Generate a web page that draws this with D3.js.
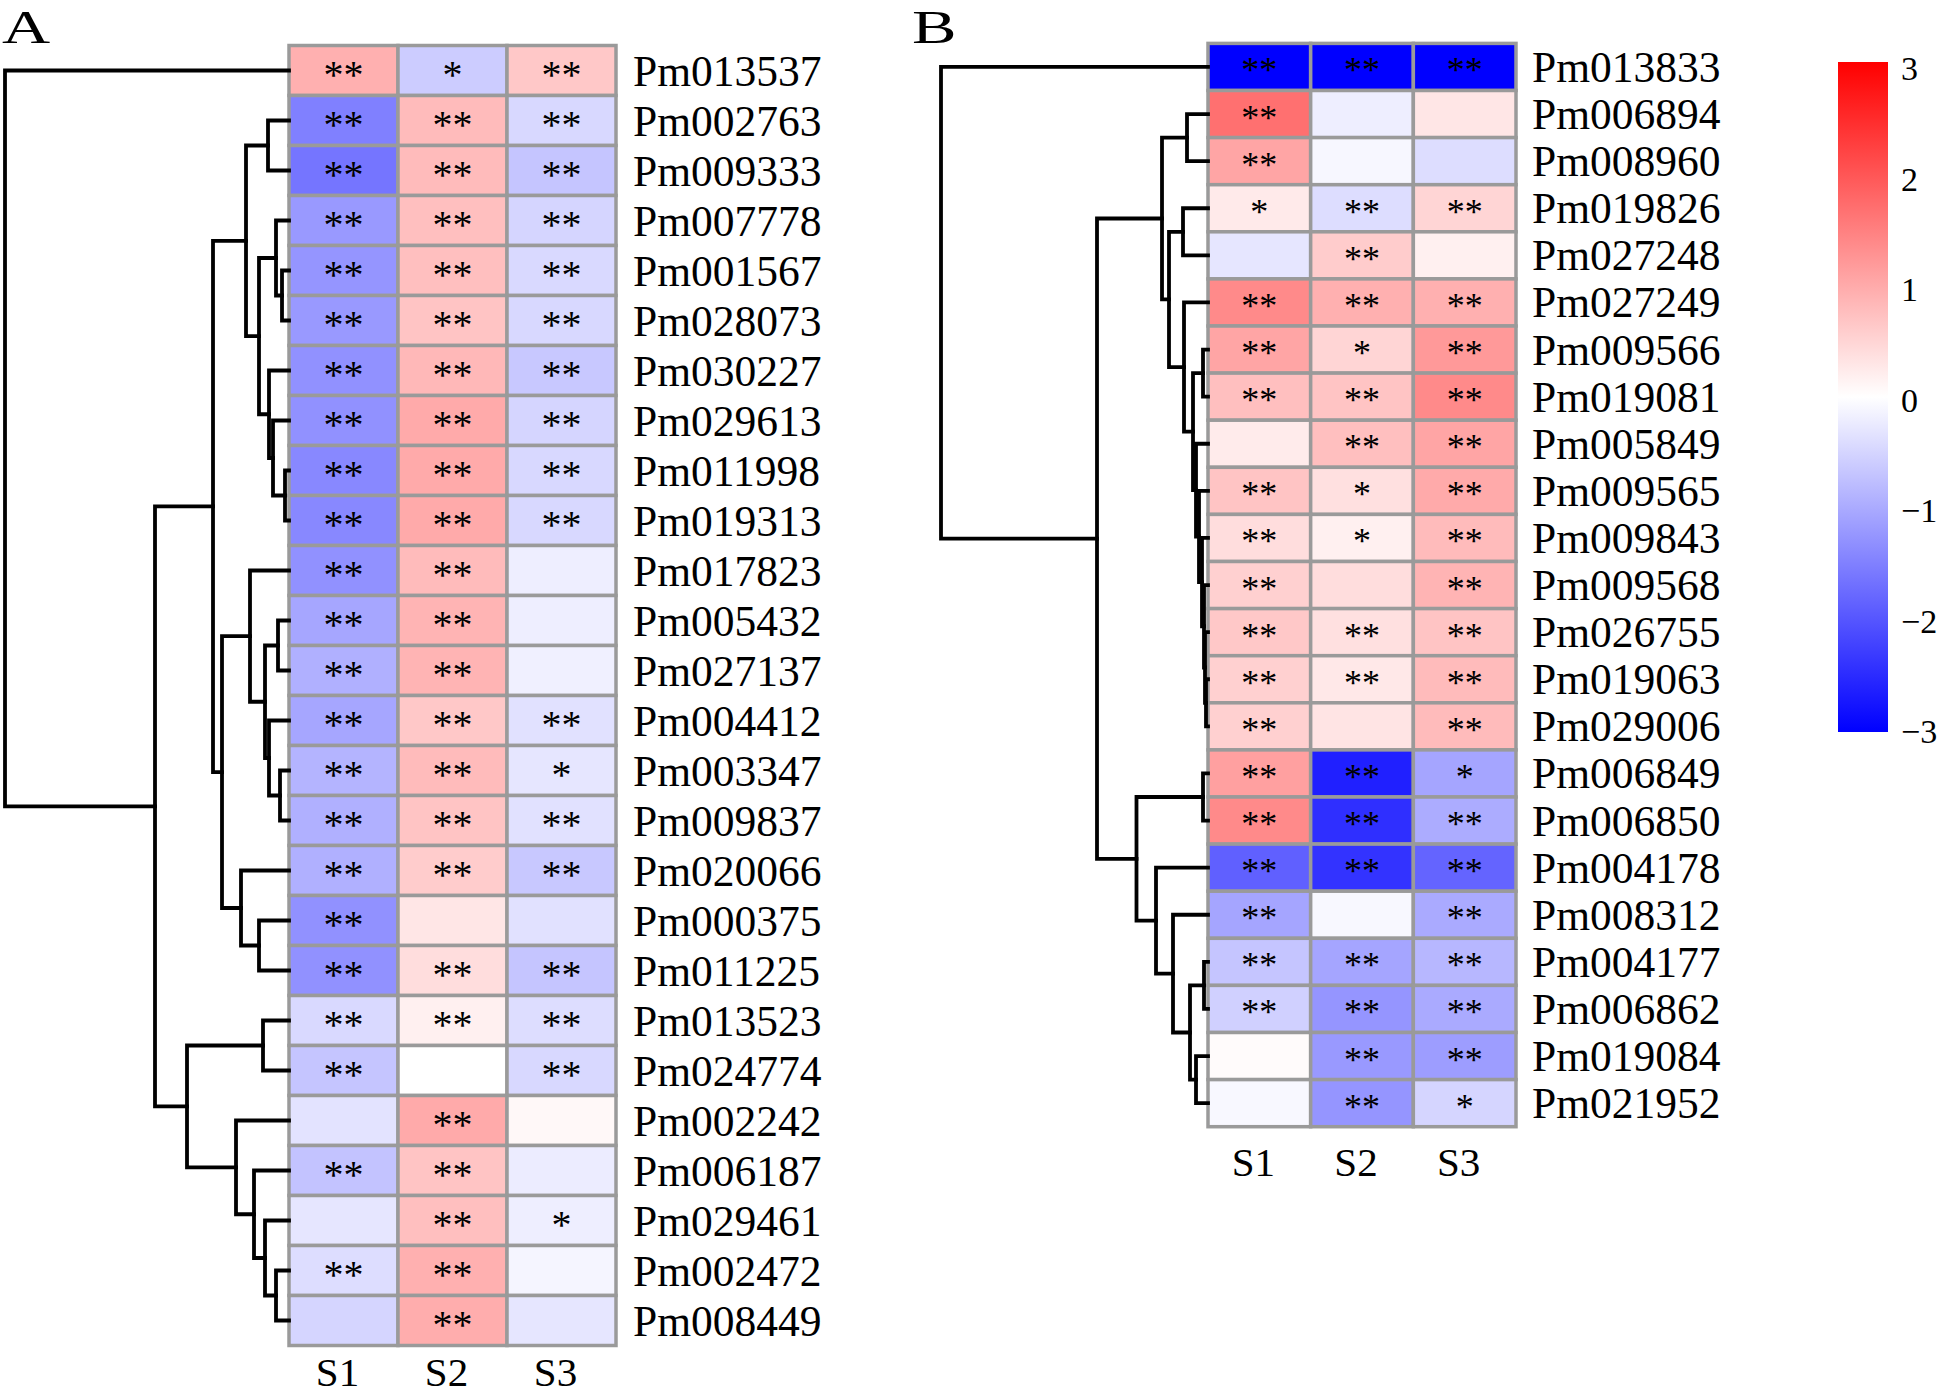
<!DOCTYPE html>
<html><head><meta charset="utf-8">
<script src="https://cdn.jsdelivr.net/npm/d3@7"></script>
<style>html,body{margin:0;padding:0;background:#fff;} svg{display:block;}</style>
</head><body>
<svg id="chart" width="1945" height="1396"></svg>
<script>
// ---------------- DATA ----------------
const samples = ["S1", "S2", "S3"];

const genesA = ["Pm013537","Pm002763","Pm009333","Pm007778","Pm001567","Pm028073","Pm030227","Pm029613","Pm011998","Pm019313","Pm017823","Pm005432","Pm027137","Pm004412","Pm003347","Pm009837","Pm020066","Pm000375","Pm011225","Pm013523","Pm024774","Pm002242","Pm006187","Pm029461","Pm002472","Pm008449"];
const valuesA = [
  [0.93,-0.6,0.65],[-1.5,0.8,-0.46],[-1.62,0.8,-0.68],[-1.2,0.75,-0.5],[-1.25,0.75,-0.45],
  [-1.2,0.7,-0.46],[-1.3,0.83,-0.65],[-1.3,1.0,-0.5],[-1.4,1.0,-0.46],[-1.4,1.0,-0.46],
  [-1.3,0.8,-0.2],[-1.05,0.88,-0.2],[-0.93,0.88,-0.18],[-1.05,0.65,-0.35],[-0.88,0.8,-0.3],
  [-0.93,0.7,-0.35],[-0.93,0.6,-0.65],[-1.3,0.3,-0.35],[-1.3,0.4,-0.68],[-0.45,0.18,-0.4],
  [-0.68,0,-0.46],[-0.33,1.0,0.08],[-0.7,0.7,-0.22],[-0.3,0.75,-0.2],[-0.4,0.93,-0.12],[-0.5,0.97,-0.3]
];
const sigA = [
  ["**","*","**"],["**","**","**"],["**","**","**"],["**","**","**"],["**","**","**"],
  ["**","**","**"],["**","**","**"],["**","**","**"],["**","**","**"],["**","**","**"],
  ["**","**",""],["**","**",""],["**","**",""],["**","**","**"],["**","**","*"],
  ["**","**","**"],["**","**","**"],["**","",""],["**","**","**"],["**","**","**"],
  ["**","","**"],["","**",""],["**","**",""],["","**","*"],["**","**",""],["","**",""]
];
// hclust-style merges: [left, right, height]; negative = leaf (row number), positive = earlier merge
const mergeA = [
  [-9,-10,4],[-5,-6,7],[-2,-3,21],[-4,2,13],[-8,1,16],[-7,5,20],[4,6,30],[3,7,43],
  [-12,-13,11],[-15,-16,9],[-14,10,20],[9,11,24],[-11,12,39],[-18,-19,30],[-17,14,48],
  [13,15,67],[8,16,76],[-20,-21,26],[-25,-26,13],[-24,19,24],[-23,20,35],[-22,21,53],
  [18,22,102],[17,23,134],[-1,24,284]
];

const genesB = ["Pm013833","Pm006894","Pm008960","Pm019826","Pm027248","Pm027249","Pm009566","Pm019081","Pm005849","Pm009565","Pm009843","Pm009568","Pm026755","Pm019063","Pm029006","Pm006849","Pm006850","Pm004178","Pm008312","Pm004177","Pm006862","Pm019084","Pm021952"];
const valuesB = [
  [-3,-3,-3],[1.68,-0.2,0.3],[1.06,-0.1,-0.4],[0.25,-0.4,0.5],[-0.3,0.6,0.18],
  [1.38,0.93,0.93],[1.06,0.5,1.2],[0.75,0.7,1.38],[0.24,0.75,1.06],[0.7,0.37,1.0],
  [0.4,0.18,0.8],[0.55,0.4,0.88],[0.65,0.37,0.7],[0.55,0.27,0.8],[0.55,0.32,0.8],
  [1.12,-2.62,-1.06],[1.38,-2.45,-0.98],[-1.87,-2.4,-1.82],[-1.06,-0.08,-1.0],
  [-0.68,-1.06,-0.85],[-0.55,-1.25,-1.0],[0.05,-1.2,-1.15],[-0.08,-1.25,-0.5]
];
const sigB = [
  ["**","**","**"],["**","",""],["**","",""],["*","**","**"],["","**",""],
  ["**","**","**"],["**","*","**"],["**","**","**"],["","**","**"],["**","*","**"],
  ["**","*","**"],["**","","**"],["**","**","**"],["**","**","**"],["**","","**"],
  ["**","**","*"],["**","**","**"],["**","**","**"],["**","","**"],["**","**","**"],
  ["**","**","**"],["","**","**"],["","**","*"]
];
const mergeB = [
  [-2,-3,21],[-4,-5,25],[-7,-8,5],[-14,-15,2],[-13,4,3],[-12,5,4],[-11,6,6],[-10,7,9],
  [-9,8,12],[3,9,15],[-6,10,24],[2,11,39],[1,12,46],[-16,-17,5],[-20,-21,4],[-22,-23,12],
  [15,16,18],[-19,17,35],[-18,18,52],[14,19,71.5],[13,20,111],[-1,21,267]
];

const legendTicks = [3, 2, 1, 0, -1, -2, -3];
const legendLabels = ["3", "2", "1", "0", "\u22121", "\u22122", "\u22123"];

// ---------------- DRAW ----------------
const FONT = "'Liberation Serif','Times New Roman',serif";
const svg = d3.select("#chart");
const color = d3.scaleLinear().domain([-3, 0, 3]).range(["#0000ff", "#ffffff", "#ff0000"]).clamp(true);

function drawPanel(p) {
  const g = svg.append("g");
  const x = d3.scaleBand().domain(samples).range([p.left, p.right]);
  const y = d3.scaleBand().domain(p.genes).range([p.top, p.bottom]);
  const hx = d3.scaleLinear().domain([0, p.maxH]).range([p.left, p.dendroLeft]);

  // cells
  p.genes.forEach((gene, i) => {
    samples.forEach((s, j) => {
      g.append("rect")
        .attr("x", x(s)).attr("y", y(gene))
        .attr("width", x.bandwidth()).attr("height", y.bandwidth())
        .attr("fill", color(p.values[i][j]))
        .attr("stroke", "#9a9a9a").attr("stroke-width", 3.5);
    });
  });
  // stars
  p.genes.forEach((gene, i) => {
    samples.forEach((s, j) => {
      const t = p.sig[i][j];
      if (!t) return;
      g.append("text")
        .attr("x", x(s) + x.bandwidth() / 2)
        .attr("y", y(gene) + y.bandwidth() / 2 + p.starDy)
        .attr("text-anchor", "middle")
        .attr("font-family", FONT).attr("font-size", p.starSize)
        .attr("fill", "#000").text(t);
    });
  });
  // row labels
  p.genes.forEach(gene => {
    g.append("text")
      .attr("x", p.labelX).attr("y", y(gene) + y.bandwidth() / 2 + 15)
      .attr("font-family", FONT).attr("font-size", 43.5)
      .attr("fill", "#000").text(gene);
  });
  // column labels
  samples.forEach(s => {
    g.append("text")
      .attr("x", x(s) + x.bandwidth() / 2 - 6).attr("y", p.colLabelY)
      .attr("text-anchor", "middle")
      .attr("font-family", FONT).attr("font-size", 41)
      .attr("fill", "#000").text(s);
  });
  // dendrogram
  const pos = [];
  const nodePos = id => id < 0
    ? { x: hx(0), y: y(p.genes[-id - 1]) + y.bandwidth() / 2 }
    : pos[id - 1];
  const dg = g.append("g").attr("fill", "none").attr("stroke", "#000")
    .attr("stroke-width", 3.8).attr("stroke-linecap", "square");
  p.merges.forEach(([a, b, ht], k) => {
    const A = nodePos(a), B = nodePos(b);
    const nx = hx(ht), ny = (A.y + B.y) / 2;
    pos[k] = { x: nx, y: ny };
    const path = d3.path();
    path.moveTo(A.x, A.y);
    path.lineTo(nx, A.y);
    path.lineTo(nx, B.y);
    path.lineTo(B.x, B.y);
    dg.append("path").attr("d", path.toString());
  });
  // panel letter
  svg.append("text")
    .attr("transform", `translate(${p.letterX},43) scale(1.45,1)`)
    .attr("font-family", FONT).attr("font-size", 46)
    .attr("fill", "#000").text(p.letter);
}

drawPanel({
  letter: "A", letterX: 2,
  genes: genesA, values: valuesA, sig: sigA, merges: mergeA,
  left: 289, right: 616, top: 45.5, bottom: 1345.5,
  dendroLeft: 5, maxH: 284, labelX: 633, colLabelY: 1386,
  starSize: 40, starDy: 17.5
});
drawPanel({
  letter: "B", letterX: 912,
  genes: genesB, values: valuesB, sig: sigB, merges: mergeB,
  left: 1208, right: 1516, top: 43.4, bottom: 1126.7,
  dendroLeft: 941, maxH: 267, labelX: 1532, colLabelY: 1176,
  starSize: 36, starDy: 15.5
});

// legend
const defs = svg.append("defs");
const grad = defs.append("linearGradient").attr("id", "lg")
  .attr("x1", 0).attr("y1", 1).attr("x2", 0).attr("y2", 0);
[-3, 0, 3].forEach(v => {
  grad.append("stop").attr("offset", (v + 3) / 6).attr("stop-color", color(v));
});
const ly = d3.scaleLinear().domain([-3, 3]).range([732, 69]);
svg.append("rect").attr("x", 1838).attr("y", ly(3) - 7).attr("width", 50)
  .attr("height", ly(-3) - ly(3) + 7).attr("fill", "url(#lg)");
legendTicks.forEach((v, i) => {
  svg.append("text").attr("x", 1901).attr("y", Math.min(ly(v) + 11, 1380))
    .attr("font-family", FONT).attr("font-size", 34)
    .attr("fill", "#000").text(legendLabels[i]);
});
</script>
</body></html>
